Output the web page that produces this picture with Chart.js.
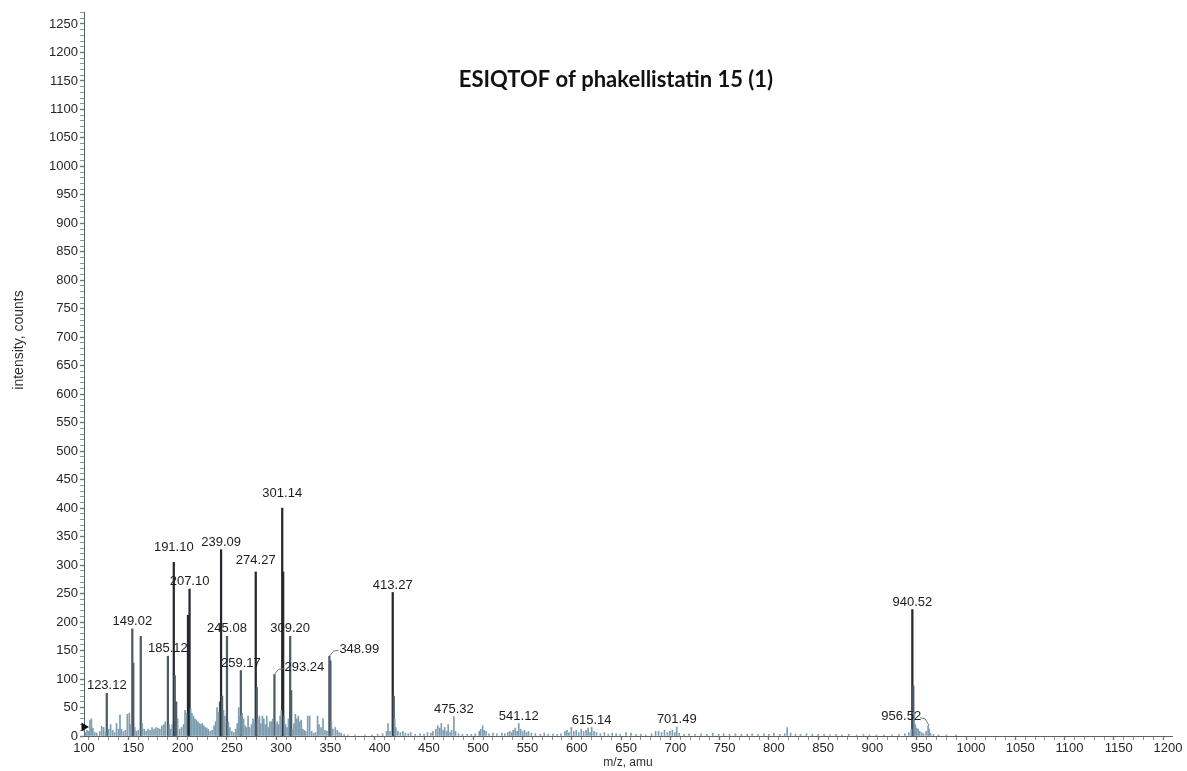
<!DOCTYPE html>
<html>
<head>
<meta charset="utf-8">
<title>ESIQTOF of phakellistatin 15 (1)</title>
<script src="https://cdn.jsdelivr.net/npm/chart.js@4.4.1/dist/chart.umd.min.js"></script>
<style>
  html, body { margin: 0; padding: 0; background: #ffffff; }
  #wrap { width: 1187px; height: 771px; }
</style>
</head>
<body>
<div id="wrap"><canvas id="ms" width="1187" height="771"></canvas></div>
<script>
// Centroided ESI-QTOF spectrum: m/z of each stick and its intensity in counts
const peakMz = [
  101.5, 103.0, 104.5, 106.0, 107.5, 109.0, 111.0, 113.0, 116.0, 118.0, 120.0, 122.0, 123.12, 125.0, 127.0, 129.0,
  131.0, 133.0, 135.0, 136.5, 138.0, 140.0, 142.0, 144.0, 146.0, 147.5, 149.02, 150.0, 151.5, 153.0, 155.0, 157.6,
  159.0, 161.0, 163.0, 165.0, 167.0, 169.0, 171.0, 173.0, 175.0, 177.0, 179.0, 181.0, 182.5, 185.12, 186.5, 188.0,
  189.5, 191.10, 192.1, 193.5, 195.0, 197.0, 199.0, 201.0, 202.5, 204.0, 205.5, 207.10, 208.2, 209.5, 211.0, 212.5,
  214.0, 215.5, 217.0, 218.5, 220.0, 221.5, 223.0, 224.5, 226.0, 228.0, 230.0, 232.0, 233.5, 235.0, 236.5, 238.0,
  239.09, 240.1, 241.5, 243.0, 245.08, 246.5, 248.0, 250.0, 252.0, 254.0, 255.5, 257.0, 258.2, 259.17, 260.5, 262.0,
  263.5, 265.0, 266.5, 268.0, 270.0, 271.5, 273.0, 274.27, 275.3, 276.5, 278.0, 279.5, 281.0, 282.5, 284.0, 285.5,
  287.0, 288.5, 290.0, 291.5, 293.24, 294.5, 296.0, 297.5, 299.0, 300.2, 301.14, 302.1, 303.2, 304.5, 306.0, 307.5,
  309.20, 310.2, 311.5, 313.0, 314.5, 316.0, 317.5, 319.0, 320.5, 322.0, 323.5, 325.0, 327.0, 329.0, 331.0, 333.0,
  335.0, 337.0, 338.5, 340.5, 342.5, 344.5, 346.5, 348.99, 350.0, 351.0, 352.5, 355.0, 357.0, 359.0, 361.0, 364.0,
  368.0, 375.0, 385.0, 392.0, 398.0, 403.0, 407.0, 408.5, 410.5, 413.27, 414.3, 415.3, 416.5, 418.5, 421.0, 423.5,
  426.0, 429.0, 431.5, 436.0, 441.0, 445.0, 448.5, 452.0, 454.0, 457.0, 459.0, 461.0, 462.6, 464.5, 466.0, 468.0,
  469.5, 471.5, 473.0, 475.32, 477.0, 480.0, 484.0, 489.0, 493.0, 497.0, 501.0, 502.5, 504.5, 506.0, 508.0, 511.0,
  515.0, 519.0, 524.0, 527.0, 530.0, 532.0, 534.0, 535.5, 537.5, 539.5, 541.12, 543.0, 545.0, 547.0, 549.0, 551.0,
  554.0, 558.0, 563.0, 567.0, 571.0, 576.0, 580.0, 584.0, 588.0, 590.0, 592.0, 594.5, 597.0, 599.5, 602.0, 604.5,
  607.0, 609.5, 611.5, 613.5, 615.14, 617.5, 620.0, 624.0, 628.0, 632.0, 636.0, 640.0, 644.0, 650.0, 655.0, 660.0,
  665.0, 670.0, 676.0, 680.0, 683.0, 686.0, 689.0, 692.0, 694.5, 697.0, 699.5, 701.49, 704.0, 709.0, 714.0, 720.0,
  726.0, 732.0, 738.0, 744.0, 749.0, 755.0, 761.0, 767.0, 773.0, 778.0, 784.0, 790.0, 795.0, 800.0, 806.0, 811.0,
  813.5, 817.0, 822.0, 827.0, 833.0, 839.0, 845.0, 851.0, 857.0, 863.0, 869.0, 876.0, 884.0, 891.0, 897.0, 904.0,
  912.0, 920.0, 927.0, 933.0, 937.0, 939.5, 940.52, 941.5, 942.5, 943.5, 945.0, 946.5, 948.0, 950.0, 952.0, 954.5,
  956.52, 957.5, 959.0, 962.0, 967.0, 975.0, 985.0
];
const peakCounts = [
  6, 10, 8, 28, 30, 14, 6, 5, 8, 17, 15, 6, 75, 12, 20, 10,
  6, 22, 12, 37, 12, 8, 10, 38, 40, 20, 188, 128, 15, 8, 10, 175,
  22, 12, 8, 12, 10, 15, 12, 15, 14, 12, 18, 20, 25, 140, 20, 12,
  20, 305, 106, 60, 30, 12, 15, 20, 45, 40, 212, 258, 48, 40, 35, 30,
  28, 25, 22, 20, 22, 18, 15, 14, 12, 8, 10, 18, 25, 50, 42, 60,
  327, 70, 45, 35, 175, 25, 15, 8, 6, 12, 22, 50, 35, 115, 40, 30,
  18, 15, 35, 15, 20, 30, 25, 288, 85, 30, 35, 22, 35, 30, 20, 35,
  15, 25, 25, 30, 108, 20, 25, 20, 35, 45, 400, 288, 35, 20, 15, 30,
  175, 80, 12, 22, 38, 30, 35, 25, 28, 12, 10, 8, 35, 35, 8, 5,
  6, 35, 20, 15, 30, 10, 8, 140, 132, 25, 12, 15, 10, 6, 5, 3,
  2, 2, 2, 2, 3, 4, 8, 22, 8, 252, 70, 30, 15, 8, 6, 8,
  5, 4, 6, 3, 4, 3, 6, 5, 8, 12, 18, 14, 22, 10, 15, 8,
  20, 6, 10, 34, 8, 4, 3, 3, 3, 4, 8, 12, 18, 10, 8, 4,
  5, 4, 5, 4, 6, 8, 6, 10, 14, 8, 22, 12, 8, 10, 6, 8,
  5, 4, 3, 5, 3, 4, 3, 4, 8, 10, 6, 15, 8, 10, 6, 12,
  8, 10, 14, 6, 15, 8, 6, 4, 6, 3, 5, 4, 3, 6, 5, 3,
  3, 2, 4, 8, 8, 6, 10, 6, 8, 10, 6, 16, 5, 3, 4, 3,
  4, 3, 5, 3, 4, 3, 4, 3, 3, 4, 3, 4, 3, 5, 3, 4,
  15, 5, 3, 3, 4, 3, 3, 3, 2, 3, 2, 3, 2, 3, 2, 2,
  2, 2, 3, 4, 6, 12, 222, 88, 42, 20, 14, 12, 8, 6, 4, 8,
  18, 12, 5, 3, 2, 2, 2
];

// Peaks annotated with their m/z
const labelledMz = [
  123.12, 149.02, 185.12, 191.10, 207.10, 239.09, 245.08, 259.17, 274.27,
  293.24, 301.14, 309.20, 348.99, 413.27, 475.32, 541.12, 615.14, 701.49,
  940.52, 956.52
];

// Acquisition threshold marker on the intensity axis
const thresholdMz = [100];
const thresholdCounts = [16];

const chartTitle = 'ESIQTOF of phakellistatin 15 (1)';
const xAxisTitle = 'm/z, amu';
const yAxisTitle = 'intensity, counts';

const FONT = '"Liberation Sans", Arial, sans-serif';

// strong sticks are drawn heavier than the low-level noise sticks
const STRONG = 60;
const sticks = (keep) => peakMz
  .map((m, i) => ({ x: m, y: peakCounts[i] }))
  .filter((p) => keep(p.y));

// Labels drawn with a short leader line to one side of the stick
const leaderSide = { '293.24': 'right', '348.99': 'right', '956.52': 'left' };
const labelLift = { '301.14': 7, '191.10': 7, '274.27': 4 };

const peakLabels = {
  id: 'peakLabels',
  afterDatasetsDraw(chart) {
    const { ctx } = chart;
    const xs = chart.scales.x, ys = chart.scales.y;
    ctx.save();
    ctx.font = '13px ' + FONT;
    ctx.fillStyle = '#1c1c1c';
    ctx.strokeStyle = '#6b7780';
    ctx.lineWidth = 1;
    labelledMz.forEach((mz) => {
      const i = peakMz.indexOf(mz);
      if (i < 0) return;
      const px = xs.getPixelForValue(mz);
      const py = ys.getPixelForValue(peakCounts[i]);
      const text = mz.toFixed(2);
      const side = leaderSide[text];
      if (side === 'right') {
        ctx.beginPath();
        ctx.moveTo(px, py);
        ctx.lineTo(px + 4, py - 5);
        ctx.lineTo(px + 9, py - 6);
        ctx.stroke();
        ctx.textAlign = 'left';
        ctx.textBaseline = 'middle';
        ctx.fillText(text, px + 10, py - 7);
      } else if (side === 'left') {
        ctx.beginPath();
        ctx.moveTo(px + 1, py);
        ctx.lineTo(px - 3, py - 7);
        ctx.lineTo(px - 8, py - 8);
        ctx.stroke();
        ctx.textAlign = 'right';
        ctx.textBaseline = 'middle';
        ctx.fillText(text, px - 7, py - 9);
      } else {
        ctx.textAlign = 'center';
        ctx.textBaseline = 'bottom';
        ctx.fillText(text, px, py - 1 - (labelLift[text] || 0));
      }
    });
    ctx.restore();
  }
};

const headings = {
  id: 'headings',
  afterDraw(chart) {
    const { ctx, chartArea } = chart;
    ctx.save();
    // spectrum title inside the plot
    ctx.font = 'bold 22px Lato, "Open Sans", sans-serif';
    ctx.fillStyle = '#111111';
    ctx.textAlign = 'center';
    ctx.textBaseline = 'middle';
    ctx.fillText(chartTitle, chartArea.left + 532, chartArea.top + 68);
    // vertical axis title
    ctx.font = '14px ' + FONT;
    ctx.fillStyle = '#2e2e2e';
    ctx.translate(19, chartArea.top + 328);
    ctx.rotate(-Math.PI / 2);
    ctx.fillText(yAxisTitle, 0, 0);
    ctx.restore();
  }
};

const ticksEvery50 = (v) => (Math.round(v) % 50 === 0 ? String(Math.round(v)) : '');
const tickWidth = (c) => (c.tick && Math.round(c.tick.value) % 50 === 0 ? 1.4 : 0.8);

new Chart(document.getElementById('ms'), {
  type: 'bar',
  data: {
    datasets: [
      {
        type: 'bar',
        label: 'noise',
        data: sticks((v) => v < STRONG),
        backgroundColor: '#7d9db1',
        borderWidth: 0,
        barThickness: 1,
        grouped: false
      },
      {
        type: 'bar',
        label: 'peaks',
        data: sticks((v) => v >= STRONG),
        backgroundColor: (c) => (c.raw && c.raw.y >= 200 ? '#25292d' : '#4f5b65'),
        borderWidth: 0,
        barThickness: 1.6,
        grouped: false
      },
      {
        type: 'scatter',
        label: 'threshold',
        data: thresholdMz.map((m, i) => ({ x: m, y: thresholdCounts[i] })),
        pointStyle: 'triangle',
        rotation: 90,
        radius: 5,
        backgroundColor: '#111111',
        borderColor: '#111111',
        borderWidth: 0,
        clip: false
      }
    ]
  },
  options: {
    responsive: false,
    animation: false,
    events: [],
    layout: { padding: { left: 0, top: 12, right: 15, bottom: 0 } },
    plugins: {
      legend: { display: false },
      tooltip: { enabled: false },
      title: { display: false }
    },
    scales: {
      x: {
        type: 'linear',
        min: 100,
        max: 1204,
        offset: false,
        border: { display: true, color: '#55626c', width: 1 },
        grid: {
          drawOnChartArea: false,
          drawTicks: true,
          tickLength: 4,
          tickColor: '#6d7a84',
          tickWidth: tickWidth
        },
        ticks: {
          stepSize: 10,
          autoSkip: false,
          includeBounds: false,
          maxRotation: 0,
          minRotation: 0,
          padding: 1,
          color: '#262626',
          font: { family: FONT, size: 13 },
          callback: ticksEvery50
        },
        title: {
          display: true,
          text: xAxisTitle,
          color: '#2e2e2e',
          font: { family: FONT, size: 12 },
          padding: { top: 0, bottom: 1 }
        },
        afterFit(scale) { scale.height = 35; }
      },
      y: {
        type: 'linear',
        min: 0,
        max: 1271,
        border: { display: true, color: '#55626c', width: 1 },
        grid: {
          drawOnChartArea: false,
          drawTicks: true,
          tickLength: 4,
          tickColor: '#6d7a84',
          tickWidth: tickWidth
        },
        ticks: {
          stepSize: 10,
          autoSkip: false,
          includeBounds: false,
          padding: 2,
          color: '#262626',
          font: { family: FONT, size: 13 },
          callback: ticksEvery50
        },
        title: { display: false },
        afterFit(scale) { scale.width = 84; }
      }
    }
  },
  plugins: [peakLabels, headings]
});
</script>
</body>
</html>
